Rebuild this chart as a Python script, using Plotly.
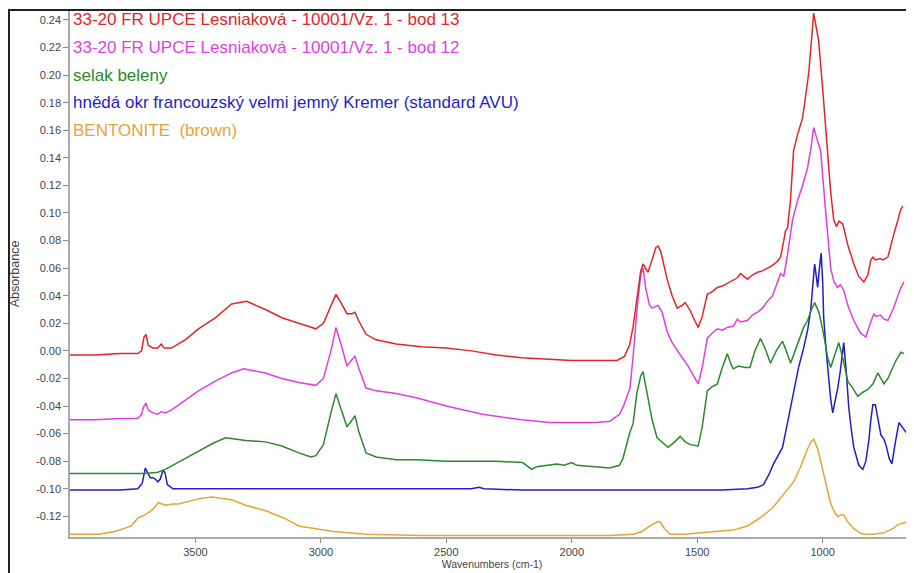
import plotly.graph_objects as go

# --- data (wavenumber, absorbance) ---
names = [
    "33-20 FR UPCE Lesniaková - 10001/Vz. 1 - bod 13",
    "33-20 FR UPCE Lesniaková - 10001/Vz. 1 - bod 12",
    "selak beleny",
    "hnědá okr francouzský velmi jemný Kremer (standard AVU)",
    "BENTONITE  (brown)",
]
colors = ["#e0262a", "#df3fdf", "#2a8a2a", "#1f1fc4", "#e9a235"]

bod13_wn = [4000, 3900, 3800, 3730, 3715, 3705, 3697, 3688, 3670, 3650, 3636, 3625, 3596, 3541,
            3488, 3421, 3356, 3296, 3221, 3156, 3088, 3050, 3020, 2990, 2960, 2940, 2920, 2896,
            2875, 2864, 2850, 2820, 2780, 2700, 2600, 2500, 2400, 2300, 2200, 2100, 2000, 1900,
            1820, 1790, 1770, 1756, 1740, 1725, 1716, 1705, 1696, 1680, 1665, 1656, 1645, 1620,
            1600, 1580, 1560, 1548, 1530, 1510, 1496, 1480, 1460, 1440, 1420, 1400, 1380, 1360,
            1340, 1328, 1310, 1300, 1280, 1260, 1240, 1220, 1200, 1180, 1168, 1155, 1148, 1140,
            1128, 1116, 1100, 1080, 1068, 1056, 1046, 1036, 1026, 1016, 1000, 980, 968, 956, 945,
            935, 920, 900, 876, 856, 836, 820, 808, 800, 790, 770, 760, 740, 725, 716, 700, 690, 680]
bod13_abs = [-0.003, -0.003, -0.002, -0.002, 0.000, 0.010, 0.012, 0.004, 0.002, 0.002, 0.005, 0.002,
             0.002, 0.008, 0.016, 0.024, 0.034, 0.036, 0.030, 0.024, 0.020, 0.018, 0.016, 0.020,
             0.033, 0.041, 0.035, 0.027, 0.027, 0.028, 0.022, 0.012, 0.008, 0.005, 0.003, 0.002,
             0.000, -0.003, -0.005, -0.006, -0.007, -0.007, -0.007, -0.004, 0.004, 0.017, 0.040,
             0.058, 0.063, 0.060, 0.057, 0.066, 0.075, 0.076, 0.072, 0.052, 0.040, 0.031, 0.033,
             0.035, 0.030, 0.022, 0.017, 0.025, 0.041, 0.043, 0.046, 0.047, 0.049, 0.051, 0.053,
             0.056, 0.053, 0.052, 0.055, 0.057, 0.058, 0.060, 0.062, 0.065, 0.068, 0.080, 0.087,
             0.089, 0.110, 0.145, 0.157, 0.169, 0.185, 0.201, 0.222, 0.245, 0.235, 0.225, 0.190,
             0.145, 0.115, 0.095, 0.090, 0.094, 0.092, 0.077, 0.063, 0.054, 0.050, 0.055, 0.066,
             0.068, 0.066, 0.067, 0.066, 0.068, 0.080, 0.085, 0.095, 0.102, 0.105]

bod12_wn = [4000, 3900, 3800, 3730, 3715, 3705, 3697, 3688, 3670, 3650, 3636, 3620, 3596, 3541,
            3488, 3421, 3356, 3308, 3221, 3156, 3088, 3020, 2990, 2960, 2940, 2920, 2896, 2875,
            2864, 2850, 2820, 2780, 2700, 2620, 2500, 2356, 2200, 2088, 2000, 1900, 1848, 1810,
            1796, 1768, 1756, 1740, 1725, 1716, 1705, 1690, 1680, 1656, 1640, 1620, 1600, 1580,
            1560, 1540, 1520, 1496, 1480, 1460, 1440, 1420, 1400, 1380, 1356, 1340, 1328, 1300,
            1280, 1260, 1240, 1220, 1200, 1180, 1168, 1155, 1140, 1120, 1100, 1080, 1060, 1046,
            1036, 1025, 1008, 990, 968, 955, 940, 930, 916, 900, 876, 850, 828, 810, 796, 788,
            770, 755, 740, 720, 708, 690, 676]
bod12_abs = [-0.050, -0.050, -0.049, -0.049, -0.046, -0.040, -0.038, -0.043, -0.045, -0.046,
             -0.044, -0.045, -0.043, -0.036, -0.029, -0.022, -0.016, -0.013, -0.016, -0.020,
             -0.023, -0.025, -0.020, 0.000, 0.017, 0.005, -0.011, -0.006, -0.004, -0.012, -0.027,
             -0.029, -0.031, -0.034, -0.040, -0.046, -0.050, -0.052, -0.052, -0.052, -0.051,
             -0.046, -0.041, -0.027, -0.005, 0.030, 0.056, 0.060, 0.045, 0.033, 0.031, 0.033,
             0.028, 0.014, 0.006, 0.000, -0.005, -0.010, -0.016, -0.024, -0.012, 0.009, 0.013,
             0.016, 0.015, 0.017, 0.018, 0.023, 0.021, 0.022, 0.026, 0.028, 0.031, 0.036, 0.040,
             0.050, 0.056, 0.054, 0.070, 0.095, 0.109, 0.120, 0.133, 0.148, 0.162, 0.155, 0.145,
             0.105, 0.060, 0.050, 0.046, 0.048, 0.044, 0.033, 0.022, 0.013, 0.010, 0.020, 0.027,
             0.025, 0.026, 0.023, 0.022, 0.030, 0.036, 0.045, 0.050]

selak_wn = [4000, 3900, 3800, 3700, 3650, 3620, 3560, 3488, 3430, 3380, 3300, 3220, 3156, 3088,
            3040, 3020, 2990, 2960, 2940, 2920, 2896, 2875, 2864, 2850, 2820, 2780, 2700, 2620,
            2500, 2400, 2300, 2196, 2180, 2160, 2140, 2100, 2060, 2030, 2000, 1980, 1900, 1848,
            1810, 1796, 1770, 1756, 1740, 1725, 1716, 1700, 1680, 1660, 1640, 1616, 1590, 1568,
            1548, 1528, 1496, 1480, 1460, 1440, 1420, 1400, 1380, 1365, 1356, 1336, 1310, 1290,
            1270, 1248, 1230, 1208, 1185, 1160, 1145, 1128, 1110, 1090, 1076, 1060, 1045, 1032,
            1015, 996, 980, 968, 955, 936, 920, 900, 880, 860, 840, 820, 800, 780, 768, 756, 740,
            720, 708, 688, 676]
selak_abs = [-0.089, -0.089, -0.089, -0.089, -0.088, -0.086, -0.080, -0.073, -0.067, -0.063,
             -0.065, -0.066, -0.069, -0.074, -0.077, -0.076, -0.068, -0.045, -0.031, -0.042,
             -0.055, -0.050, -0.047, -0.058, -0.074, -0.077, -0.079, -0.079, -0.080, -0.080,
             -0.080, -0.081, -0.083, -0.086, -0.084, -0.083, -0.082, -0.083, -0.081, -0.083,
             -0.084, -0.085, -0.083, -0.078, -0.060, -0.053, -0.030, -0.018, -0.015, -0.030,
             -0.050, -0.063, -0.066, -0.070, -0.066, -0.062, -0.066, -0.068, -0.069, -0.055,
             -0.029, -0.026, -0.024, -0.012, -0.002, -0.010, -0.013, -0.011, -0.012, -0.012,
             0.000, 0.009, 0.002, -0.009, 0.000, 0.007, 0.000, -0.009, 0.000, 0.010, 0.017,
             0.022, 0.030, 0.035, 0.028, 0.012, -0.005, -0.012, -0.005, 0.006, -0.005, -0.022,
             -0.027, -0.033, -0.030, -0.028, -0.024, -0.016, -0.020, -0.024, -0.020, -0.012,
             -0.007, -0.001, -0.002]

okr_wn = [4000, 3900, 3800, 3730, 3712, 3700, 3690, 3680, 3670, 3660, 3650, 3640, 3630, 3622,
          3612, 3590, 3500, 3000, 2700, 2400, 2370, 2350, 2200, 2100, 2000, 1900, 1800, 1600,
          1400, 1300, 1260, 1236, 1215, 1196, 1180, 1160, 1140, 1116, 1096, 1076, 1060, 1048,
          1038, 1032, 1026, 1020, 1013, 1006, 1000, 996, 986, 976, 968, 960, 950, 940, 930, 922,
          916, 906, 896, 886, 876, 856, 840, 828, 816, 808, 800, 790, 780, 768, 756, 745, 735,
          724, 710, 696, 680, 660, 640]
okr_abs = [-0.101, -0.101, -0.101, -0.100, -0.096, -0.085, -0.088, -0.092, -0.092, -0.093,
           -0.095, -0.093, -0.087, -0.088, -0.097, -0.100, -0.100, -0.100, -0.100, -0.100,
           -0.099, -0.100, -0.101, -0.101, -0.101, -0.101, -0.101, -0.101, -0.101, -0.100,
           -0.099, -0.097, -0.090, -0.082, -0.077, -0.070, -0.052, -0.029, -0.012, 0.002, 0.015,
           0.029, 0.050, 0.063, 0.055, 0.046, 0.060, 0.071, 0.050, 0.024, 0.000, -0.020, -0.035,
           -0.045, -0.037, -0.027, -0.015, 0.000, 0.006, -0.015, -0.041, -0.057, -0.070, -0.083,
           -0.086, -0.080, -0.065, -0.050, -0.039, -0.039, -0.048, -0.061, -0.064, -0.070,
           -0.078, -0.082, -0.066, -0.052, -0.056, -0.061, -0.065]

bent_wn = [4000, 3950, 3888, 3820, 3756, 3728, 3700, 3670, 3648, 3620, 3590, 3568, 3520, 3480,
           3436, 3400, 3356, 3300, 3220, 3150, 3088, 3020, 2950, 2820, 2600, 2400, 2200, 2000,
           1850, 1756, 1720, 1688, 1660, 1648, 1630, 1608, 1550, 1488, 1420, 1356, 1300, 1248,
           1200, 1168, 1140, 1116, 1090, 1076, 1060, 1046, 1036, 1020, 1008, 990, 968, 950, 940,
           928, 916, 900, 876, 850, 836, 800, 756, 720, 700, 660, 640]
bent_abs = [-0.133, -0.133, -0.133, -0.131, -0.127, -0.121, -0.119, -0.115, -0.110, -0.112,
            -0.111, -0.111, -0.109, -0.107, -0.106, -0.107, -0.108, -0.112, -0.116, -0.121,
            -0.127, -0.129, -0.131, -0.133, -0.134, -0.134, -0.134, -0.134, -0.134, -0.133,
            -0.131, -0.127, -0.124, -0.124, -0.129, -0.133, -0.133, -0.132, -0.131, -0.130,
            -0.127, -0.121, -0.114, -0.107, -0.101, -0.095, -0.085, -0.078, -0.071, -0.066,
            -0.064, -0.071, -0.080, -0.095, -0.111, -0.118, -0.120, -0.119, -0.119, -0.124,
            -0.129, -0.132, -0.133, -0.133, -0.132, -0.129, -0.126, -0.124, -0.124]

x_ticks = [3500, 3000, 2500, 2000, 1500, 1000]
y_ticks = [-0.12, -0.10, -0.08, -0.06, -0.04, -0.02, 0.00, 0.02, 0.04, 0.06, 0.08, 0.10,
           0.12, 0.14, 0.16, 0.18, 0.20, 0.22, 0.24]
y_ticktext = ["%.2f" % v for v in y_ticks]

series = [(bod13_wn, bod13_abs), (bod12_wn, bod12_abs), (selak_wn, selak_abs),
          (okr_wn, okr_abs), (bent_wn, bent_abs)]

fig = go.Figure()
# draw bottom spectrum first so the top ones sit above
for i in reversed(range(len(series))):
    wn, ab = series[i]
    fig.add_trace(go.Scatter(x=wn, y=ab, mode="lines", name=names[i],
                             line=dict(color=colors[i], width=1.5)))

# coloured sample names in the top-left corner
for i, name in enumerate(names):
    fig.add_annotation(x=0, xref="paper", xshift=1, y=0.24 - 0.02 * i, yref="y",
                       text=name, showarrow=False, xanchor="left", yanchor="middle",
                       font=dict(family="Liberation Sans, Arial", size=17, color=colors[i]))

# black frame round the whole chart
# (page body has an 8px margin, so the figure is sized 8px smaller than the window)
fig.add_shape(type="rect", xref="paper", yref="paper",
              x0=-0.0723, x1=1.2, y0=-0.3, y1=1.002,
              line=dict(color="#222", width=2), layer="above")

tick_font = dict(family="Liberation Sans, Arial", size=11, color="#444")
fig.update_layout(
    width=906, height=565,
    margin=dict(l=62, r=0, t=3, b=36, pad=0),
    paper_bgcolor="white", plot_bgcolor="white",
    showlegend=False,
    font=dict(family="Liberation Sans, Arial"),
    xaxis=dict(range=[4000, 636], tickvals=x_ticks, ticks="outside", ticklen=4,
               tickcolor="#888", showline=True, linecolor="#aaa", linewidth=1.5,
               showgrid=False, zeroline=False, tickfont=tick_font,
               title=dict(text="Wavenumbers (cm-1)",
                          font=dict(family="Liberation Sans, Arial", size=10.5, color="#444"),
                          standoff=4)),
    yaxis=dict(range=[-0.135, 0.2465], tickvals=y_ticks, ticktext=y_ticktext,
               ticks="outside", ticklen=5, tickcolor="#888", showline=True,
               linecolor="#aaa", linewidth=1.5, showgrid=False, zeroline=False,
               tickfont=tick_font,
               title=dict(text="Absorbance",
                          font=dict(family="Liberation Sans, Arial", size=12.5, color="#444"),
                          standoff=17)),
)

fig.write_html("out.html")
